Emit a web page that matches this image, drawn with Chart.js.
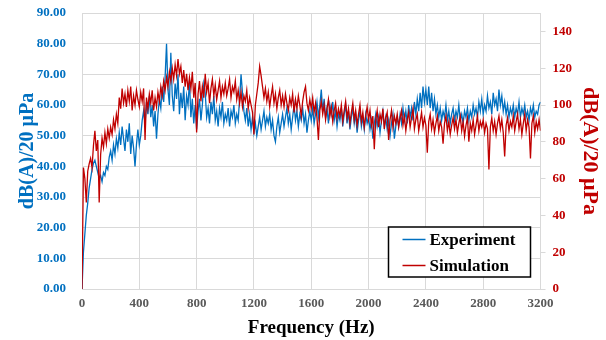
<!DOCTYPE html>
<html lang="en">
<head>
    <meta charset="UTF-8">
    <title>Experiment vs Simulation spectrum</title>
    <script src="https://cdn.jsdelivr.net/npm/chart.js"></script>
    <style>
        html, body { margin: 0; padding: 0; background: #fff; }
        #wrap { width: 606px; height: 340px; }
    </style>
</head>
<body>
    <div id="wrap"><canvas id="specChart" width="606" height="340"></canvas></div>

    <script>
        // sampled every 10 Hz, 0 .. 3200 Hz
        const freqStep = 10;

        // Experiment, left axis (dB(A)/20 uPa)
        const experiment = [
            0, 12, 18, 24, 28, 33, 36, 39, 41, 42, 40, 38, 36, 37, 35, 38, 37, 40, 39, 43,
            45, 42, 47, 44, 49, 46, 51, 47, 53, 49, 45, 52, 48, 54, 44, 50, 46, 40, 47, 52,
            47, 50, 55, 58, 54, 61, 57, 63, 56, 60, 53, 58, 49, 57, 62, 59, 66, 61, 69, 80,
            65, 60, 77, 63, 58, 67, 62, 70, 57, 64, 59, 66, 55, 63, 60, 68, 56, 62, 54, 60,
            52, 58, 62, 55, 60, 67, 64, 56, 59, 54, 61, 57, 63, 55, 58, 53, 59, 56, 61, 54,
            57, 55, 59, 53, 58, 56, 60, 54, 57, 55, 62, 70, 64, 58, 55, 59, 53, 57, 52, 56,
            51, 54, 50, 53, 56, 52, 55, 58, 53, 56, 54, 57, 52, 55, 50, 48, 53, 56, 51, 54,
            57, 53, 56, 59, 54, 57, 52, 56, 60, 55, 58, 53, 57, 55, 59, 54, 57, 51, 55, 58,
            55, 59, 54, 57, 61, 56, 60, 65, 58, 62, 56, 59, 54, 60, 57, 61, 55, 58, 53, 57,
            55, 59, 53, 57, 60, 54, 58, 52, 56, 59, 54, 57, 51, 55, 58, 53, 56, 52, 57, 54,
            56, 52, 55, 49, 54, 57, 53, 56, 51, 55, 58, 53, 56, 52, 55, 50, 54, 57, 49, 53,
            56, 53, 57, 54, 59, 55, 58, 54, 60, 56, 59, 55, 61, 57, 62, 58, 64, 59, 66, 61,
            65, 60, 66, 59, 64, 58, 62, 57, 60, 56, 59, 55, 58, 56, 60, 55, 58, 54, 57, 59,
            55, 58, 56, 60, 55, 57, 54, 58, 56, 59, 55, 58, 56, 60, 57, 59, 56, 61, 58, 62,
            57, 60, 58, 63, 59, 61, 57, 64, 60, 62, 58, 65, 60, 63, 58, 61, 57, 60, 56, 59,
            57, 60, 56, 59, 57, 61, 56, 59, 57, 60, 56, 58, 55, 59, 57, 60, 56, 58, 57, 60,
            61
        ];

        // Simulation, right axis (dB(A)/20 uPa)
        const simulation = [
            0, 66, 60, 47, 64, 68, 71, 66, 78, 86, 75, 81, 47, 73, 82, 77, 85, 79, 87, 82,
            88, 84, 92, 87, 95, 90, 104, 98, 109, 101, 106, 99, 108, 102, 110, 97, 105, 100, 108, 103,
            99, 107, 102, 109, 81, 104, 98, 106, 101, 108, 97, 104, 99, 107, 102, 110, 105, 113, 108, 115,
            110, 118, 113, 120, 114, 122, 116, 125, 117, 121, 112, 119, 110, 117, 108, 115, 109, 118, 104, 112,
            85, 106, 113, 102, 110, 104, 117, 107, 112, 101, 109, 114, 105, 111, 103, 108, 113, 104, 110, 106,
            112, 105, 109, 114, 104, 110, 107, 113, 103, 108, 101, 107, 99, 105, 102, 108, 98, 104, 100, 96,
            84, 100, 106, 112, 121, 116, 110, 104, 109, 102, 107, 99, 105, 110, 101, 106, 98, 104, 108, 100,
            105, 99, 106, 101, 97, 104, 100, 106, 96, 103, 98, 105, 100, 94, 102, 107, 110, 101, 97, 103,
            98, 104, 96, 101, 93, 81, 97, 102, 95, 100, 92, 98, 103, 94, 99, 91, 97, 101, 93, 98,
            94, 100, 91, 97, 102, 93, 98, 90, 96, 101, 92, 97, 89, 95, 100, 91, 96, 88, 94, 99,
            92, 97, 89, 94, 76, 92, 97, 88, 95, 91, 98, 87, 93, 96, 81, 92, 97, 88, 94, 90,
            95, 88, 93, 97, 89, 94, 86, 92, 96, 88, 93, 98, 87, 92, 95, 86, 91, 96, 88, 93,
            89, 74, 91, 95, 87, 92, 85, 90, 94, 86, 91, 88, 79, 90, 94, 86, 91, 84, 89, 93,
            87, 92, 85, 90, 94, 86, 91, 83, 89, 93, 80, 90, 86, 92, 84, 89, 94, 86, 91, 88,
            92, 85, 90, 87, 65, 88, 93, 86, 91, 84, 90, 94, 87, 92, 85, 72, 89, 93, 86, 91,
            88, 94, 86, 91, 95, 87, 92, 84, 90, 95, 86, 92, 88, 71, 90, 94, 85, 91, 87, 92,
            86
        ];

        const seriesNames = ['Experiment', 'Simulation'];
        const xTicks = [0, 400, 800, 1200, 1600, 2000, 2400, 2800, 3200];
        const leftTicks = [0, 10, 20, 30, 40, 50, 60, 70, 80, 90];
        const rightTicks = [0, 20, 40, 60, 80, 100, 120, 140];

        const blue = '#0070C0';
        const red = '#C00000';
        const gridGray = '#d9d9d9';
        const serif = "'Liberation Serif', 'Times New Roman', serif";

        const toPoints = arr => arr.map((v, i) => ({ x: i * freqStep, y: v }));

        // fixed axis sizes so the plot area lines up with the original
        const fixWidth = w => s => { s.width = w; s.paddingTop = 0; s.paddingBottom = 0; };

        // legend box drawn inside the plot, lower right
        const boxLegend = {
            id: 'boxLegend',
            afterDatasetsDraw(chart) {
                const { ctx, chartArea } = chart;
                const w = 142, h = 50;
                const x0 = chartArea.right - 10 - w;
                const y0 = chartArea.bottom - 12 - h;
                ctx.save();
                ctx.fillStyle = '#fff';
                ctx.fillRect(x0, y0, w, h);
                ctx.strokeStyle = '#000';
                ctx.lineWidth = 1.5;
                ctx.strokeRect(x0, y0, w, h);
                ctx.font = 'bold 17px ' + serif;
                ctx.textBaseline = 'middle';
                chart.data.datasets.forEach((ds, i) => {
                    const yy = y0 + 12.5 + i * 26;
                    ctx.strokeStyle = ds.borderColor;
                    ctx.lineWidth = 1.5;
                    ctx.beginPath();
                    ctx.moveTo(x0 + 14, yy);
                    ctx.lineTo(x0 + 37, yy);
                    ctx.stroke();
                    ctx.fillStyle = '#000';
                    ctx.fillText(ds.label, x0 + 41, yy + 1);
                });
                ctx.restore();
            }
        };

        const ctx = document.getElementById('specChart').getContext('2d');
        new Chart(ctx, {
            type: 'line',
            data: {
                datasets: [
                    {
                        label: seriesNames[0],
                        data: toPoints(experiment),
                        borderColor: blue,
                        borderWidth: 1.3,
                        pointRadius: 0,
                        yAxisID: 'y',
                        order: 1
                    },
                    {
                        label: seriesNames[1],
                        data: toPoints(simulation),
                        borderColor: red,
                        borderWidth: 1.3,
                        pointRadius: 0,
                        yAxisID: 'y1',
                        order: 0
                    }
                ]
            },
            options: {
                responsive: false,
                animation: false,
                layout: { padding: { top: 13, left: 0, right: 0, bottom: 0 } },
                plugins: {
                    legend: { display: false },
                    tooltip: { enabled: false }
                },
                scales: {
                    x: {
                        type: 'linear',
                        min: 0,
                        max: 3200,
                        afterBuildTicks: s => { s.ticks = xTicks.map(v => ({ value: v })); },
                        afterFit: s => { s.height = 51; },
                        ticks: {
                            color: '#595959',
                            font: { family: serif, size: 13, weight: 'bold' },
                            padding: 7,
                            maxRotation: 0,
                            callback: v => String(v)
                        },
                        grid: { color: gridGray, drawTicks: false },
                        border: { color: gridGray },
                        title: {
                            display: true,
                            text: 'Frequency (Hz)',
                            color: '#000',
                            font: { family: serif, size: 19, weight: 'bold' },
                            padding: { top: 0, bottom: 1 }
                        }
                    },
                    y: {
                        position: 'left',
                        min: 0,
                        max: 90,
                        afterBuildTicks: s => { s.ticks = leftTicks.map(v => ({ value: v })); },
                        afterFit: fixWidth(82),
                        ticks: {
                            color: blue,
                            font: { family: serif, size: 13, weight: 'bold' },
                            padding: 16,
                            callback: v => v.toFixed(2)
                        },
                        grid: { color: gridGray, drawTicks: false },
                        border: { color: gridGray },
                        title: {
                            display: true,
                            text: 'dB(A)/20 μPa',
                            color: blue,
                            font: { family: serif, size: 20, weight: 'bold' },
                            padding: { top: 16, bottom: 0 }
                        }
                    },
                    y1: {
                        position: 'right',
                        min: 0,
                        max: 150,
                        afterBuildTicks: s => { s.ticks = rightTicks.map(v => ({ value: v })); },
                        afterFit: fixWidth(65.5),
                        ticks: {
                            color: red,
                            font: { family: serif, size: 13, weight: 'bold' },
                            padding: 7
                        },
                        grid: { color: gridGray, drawOnChartArea: false, drawTicks: true, tickLength: 5 },
                        border: { color: gridGray },
                        title: {
                            display: true,
                            text: 'dB(A)/20 μPa',
                            color: red,
                            font: { family: serif, size: 22, weight: 'bold' },
                            padding: { top: 3, bottom: 0 }
                        }
                    }
                }
            },
            plugins: [boxLegend]
        });
    </script>
</body>
</html>
